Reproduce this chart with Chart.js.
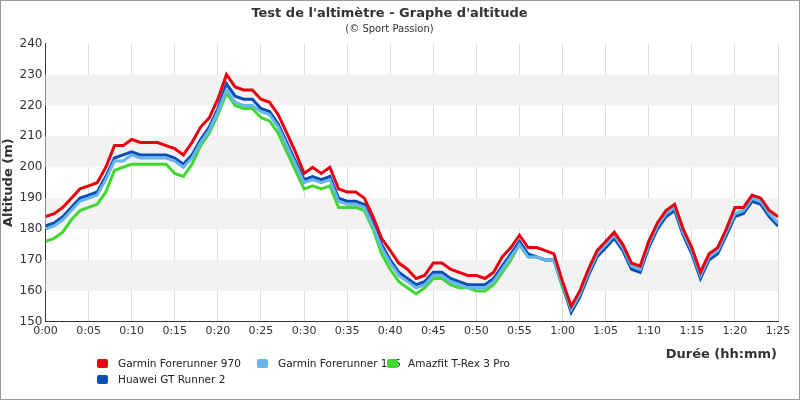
<!DOCTYPE html>
<html><head><meta charset="utf-8">
<script src="https://cdn.jsdelivr.net/npm/chart.js@4/dist/chart.umd.min.js"></script>
<style>
body{margin:0;background:#fff;font-family:"DejaVu Sans",sans-serif}
#wrap{position:relative;width:798px;height:398px;border:1px solid #999}
#legend{position:absolute;left:96px;top:356px;font-size:10.5px;color:#222}
.it{position:absolute;white-space:nowrap}
.sw{display:inline-block;width:11px;height:9px;border-radius:2px;margin-right:10px;vertical-align:-1px}
</style></head><body>
<div id="wrap"><canvas id="c" width="798" height="398"></canvas>
<div id="legend"></div></div>
<script>
const minutes=[...Array(86).keys()];
const tickLabels=["0:00","0:05","0:10","0:15","0:20","0:25","0:30","0:35","0:40","0:45","0:50","0:55","1:00","1:05","1:10","1:15","1:20","1:25"];
const seriesNames=["Garmin Forerunner 970","Garmin Forerunner 165","Amazfit T-Rex 3 Pro","Huawei GT Runner 2"];
const seriesColors=["#e8000e","#66b5ee","#40d830","#0a4fb5"];
const garmin970=[184,185,187,190,193,194,195,200,207,207,209,208,208,208,207,206,204,208,213,216,222,230,226,225,225,222,221,217,211,205,198,200,198,200,193,192,192,190,184,177,173,169,167,164,165,169,169,167,166,165,165,164,166,171,174,178,174,174,173,172,163,155,160,167,173,176,179,175,169,168,176,182,186,188,180,174,166,172,174,180,187,187,191,190,186,184];
const huawei=[181,182,184,187,190,191,192,197,203,204,205,204,204,204,204,203,201,204,209,213,219,227,223,222,222,219,218,214,208,202,196,197,196,197,190,189,189,188,182,175,170,166,164,162,163,166,166,164,163,162,162,162,164,168,172,176,172,171,170,170,162,153,158,165,171,174,177,173,167,166,174,180,184,186,178,172,164,170,172,178,184,185,189,188,184,181];
const garmin165=[180,181,183,186,189,190,191,196,202,202,204,203,203,203,203,202,200,203,208,212,218,225,221,220,220,218,217,213,207,201,195,196,195,196,189,188,188,187,181,174,169,165,163,161,162,165,165,163,162,161,161,161,163,167,171,175,171,171,170,170,162,154,159,166,172,175,178,174,168,167,175,181,185,187,179,173,165,171,173,179,185,186,190,189,185,182];
const amazfit=[176,177,179,183,186,187,188,192,199,200,201,201,201,201,201,198,197,201,207,211,217,224,220,219,219,216,215,211,205,199,193,194,193,194,187,187,187,186,180,172,167,163,161,159,161,164,164,162,161,161,160,160,162,166,170,175,171,171,170,170,161,154,159,166,172,174,177,174,168,167,175,181,185,187,179,173,165,171,173,179,185,186,190,189,185,182];
const allSeries=[garmin970,garmin165,amazfit,huawei];
const bands={id:'bands',beforeDatasetsDraw(ch){const{ctx,chartArea:a,scales:{y}}=ch;ctx.save();ctx.fillStyle='#f2f2f2';
 for(let v=160;v<240;v+=20){const t=y.getPixelForValue(v+10),b=y.getPixelForValue(v);ctx.fillRect(a.left,t,a.right-a.left,b-t);}ctx.restore();}};
const order=[0,1,3,2];
new Chart(document.getElementById('c'),{type:'line',
data:{datasets:order.map(i=>({label:seriesNames[i],data:minutes.map((m,k)=>({x:m,y:allSeries[i][k]})),borderColor:seriesColors[i],borderWidth:3,pointRadius:0,tension:0}))},
options:{responsive:false,animation:false,
layout:{padding:{left:0,right:21,top:2,bottom:58}},
plugins:{legend:{display:false},tooltip:{enabled:false},
 title:{display:true,text:"Test de l'altimètre - Graphe d'altitude",color:'#333',font:{family:'DejaVu Sans',size:13,weight:'bold'},padding:{top:3,bottom:2}},
 subtitle:{display:true,text:"(© Sport Passion)",color:'#333',font:{family:'DejaVu Sans',size:10},padding:{bottom:8}}},
scales:{
 x:{type:'linear',min:0,max:85,ticks:{stepSize:5,autoSkip:false,color:'#333',font:{family:'DejaVu Sans',size:11},callback:v=>tickLabels[v/5]},
   grid:{color:'#ddd',drawTicks:false},border:{color:'#333'}},
 y:{min:150,max:240,ticks:{stepSize:10,color:'#333',font:{family:'DejaVu Sans',size:12},padding:3},grid:{display:false,drawTicks:false},border:{color:'#333'},
   title:{display:true,text:'Altitude (m)',color:'#333',font:{family:'DejaVu Sans',size:13,weight:'bold'},padding:0}}}},
plugins:[bands,{id:'xt',afterDraw(ch){const c=ch.ctx;c.save();c.font='bold 13px DejaVu Sans';c.fillStyle='#333';c.textAlign='right';c.fillText('Durée (hh:mm)',776,357);c.restore();}}]});
const pos=[[0,0,0],[1,160,0],[2,290,0],[3,0,16]];
document.getElementById('legend').innerHTML=pos.map(([i,x,y])=>`<div class="it" style="left:${x}px;top:${y}px"><span class="sw" style="background:${seriesColors[i]}"></span>${seriesNames[i]}</div>`).join('');
</script></body></html>
